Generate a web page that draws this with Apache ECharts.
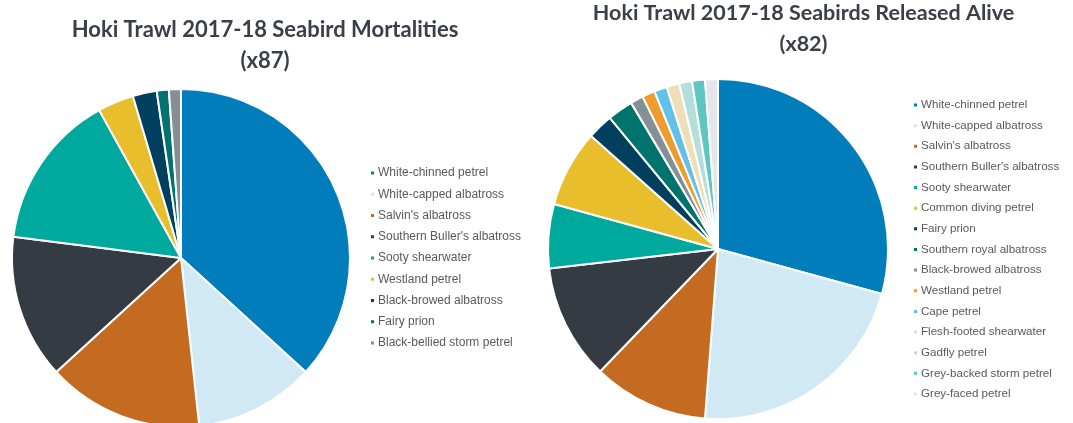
<!DOCTYPE html>
<html>
<head>
<meta charset="utf-8">
<script src="https://cdn.jsdelivr.net/npm/echarts@6/dist/echarts.min.js"></script>
<style>
  html, body { margin: 0; padding: 0; background: #ffffff; }
  #left { position: absolute; left: 0; top: 0; width: 530px; height: 423px; }
  #right { position: absolute; left: 537px; top: 0; width: 533px; height: 423px; }
</style>
</head>
<body>
<div id="left"></div>
<div id="right"></div>
<script>
var palette = ['#007DBA', '#D1E8F5', '#C46A21', '#353B42', '#00A99D', '#E8BE2D', '#003F5E', '#00736F', '#848F96', '#EE9C2E', '#62C1E9', '#EFDFB8', '#B3DFDA', '#5FC5C0', '#E4E6E9'];

var mortTitle = 'Hoki Trawl 2017-18 Seabird Mortalities\n(x87)';
var mortCategories = ['White-chinned petrel', 'White-capped albatross', "Salvin's albatross", "Southern Buller's albatross", 'Sooty shearwater', 'Westland petrel', 'Black-browed albatross', 'Fairy prion', 'Black-bellied storm petrel'];
var mortValues = [32, 10, 13, 12, 13, 3, 2, 1, 1];

var aliveTitle = 'Hoki Trawl 2017-18 Seabirds Released Alive\n(x82)';
var aliveCategories = ['White-chinned petrel', 'White-capped albatross', "Salvin's albatross", "Southern Buller's albatross", 'Sooty shearwater', 'Common diving petrel', 'Fairy prion', 'Southern royal albatross', 'Black-browed albatross', 'Westland petrel', 'Cape petrel', 'Flesh-footed shearwater', 'Gadfly petrel', 'Grey-backed storm petrel', 'Grey-faced petrel'];
var aliveValues = [24, 18, 9, 9, 5, 6, 2, 2, 1, 1, 1, 1, 1, 1, 1];

function buildOption(cfg) {
  var data = cfg.cats.map(function (n, i) { return { name: n, value: cfg.vals[i] }; });
  return {
    animation: false,
    color: palette,
    title: {
      text: cfg.title,
      left: 'center',
      top: cfg.titleTop,
      padding: 0,
      textStyle: {
        fontFamily: 'Lato',
        fontWeight: 'bold',
        fontSize: cfg.titleSize,
        lineHeight: cfg.titleLH,
        color: '#394049'
      }
    },
    legend: {
      orient: 'vertical',
      left: cfg.legLeft,
      top: cfg.legTop,
      padding: 0,
      icon: 'rect',
      itemWidth: 5,
      itemHeight: 5,
      itemGap: cfg.legGap,
      selectedMode: false,
      data: cfg.cats,
      textStyle: {
        fontFamily: 'Liberation Sans',
        fontSize: cfg.legSize,
        lineHeight: 14,
        color: '#595959',
        padding: [0, 0, 0, -2]
      }
    },
    series: [{
      type: 'pie',
      center: cfg.center,
      radius: cfg.radius,
      startAngle: 90,
      clockwise: true,
      label: { show: false },
      labelLine: { show: false },
      emphasis: { disabled: true },
      itemStyle: { borderColor: '#ffffff', borderWidth: 2 },
      data: data
    }]
  };
}

var leftChart = echarts.init(document.getElementById('left'), null, { renderer: 'canvas' });
leftChart.setOption(buildOption({
  title: mortTitle, titleTop: 14, titleSize: 22, titleLH: 31,
  cats: mortCategories, vals: mortValues,
  legLeft: 369, legTop: 166, legGap: 7.25, legSize: 12,
  center: [181, 258], radius: 169
}));

var rightChart = echarts.init(document.getElementById('right'), null, { renderer: 'canvas' });
rightChart.setOption(buildOption({
  title: aliveTitle, titleTop: -2, titleSize: 21.5, titleLH: 31,
  cats: aliveCategories, vals: aliveValues,
  legLeft: 375, legTop: 98, legGap: 6.64, legSize: 11.6,
  center: [181, 249], radius: 170
}));
</script>
</body>
</html>
